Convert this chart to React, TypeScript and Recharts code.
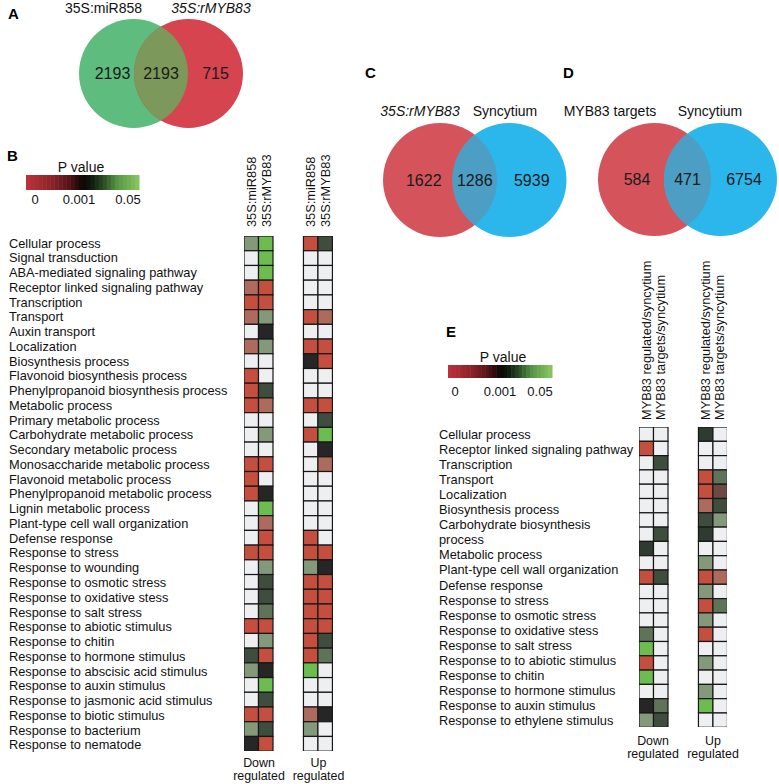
import React from "react";
import { ScatterChart, Scatter, XAxis, YAxis } from "recharts";

const FONT = "'Liberation Sans', Arial, Helvetica, sans-serif";

// Venn diagrams: counts are [only first set, both, only second set]
const vennASets = ["35S:miR858", "35S:rMYB83"];
const vennACounts = [2193, 2193, 715];
const vennCSets = ["35S:rMYB83", "Syncytium"];
const vennCCounts = [1622, 1286, 5939];
const vennDSets = ["MYB83 targets", "Syncytium"];
const vennDCounts = [584, 471, 6754];

// Panel B: GO terms and P values (null = not enriched)
const bTerms = [
  "Cellular process",
  "Signal transduction",
  "ABA-mediated signaling pathway",
  "Receptor linked signaling pathway",
  "Transcription",
  "Transport",
  "Auxin transport",
  "Localization",
  "Biosynthesis process",
  "Flavonoid biosynthesis process",
  "Phenylpropanoid biosynthesis process",
  "Metabolic process",
  "Primary metabolic process",
  "Carbohydrate metabolic process",
  "Secondary metabolic process",
  "Monosaccharide metabolic process",
  "Flavonoid metabolic process",
  "Phenylpropanoid metabolic process",
  "Lignin metabolic process",
  "Plant-type cell wall organization",
  "Defense response",
  "Response to stress",
  "Response to wounding",
  "Response to osmotic stress",
  "Response to oxidative stess",
  "Response to salt stress",
  "Response to abiotic stimulus",
  "Response to chitin",
  "Response to hormone stimulus",
  "Response to abscisic acid stimulus",
  "Response to auxin stimulus",
  "Response to jasmonic acid stimulus",
  "Response to biotic stimulus",
  "Response to bacterium",
  "Response to nematode",
];
const bColumns = ["35S:miR858", "35S:rMYB83", "35S:miR858", "35S:rMYB83"];
const bDownMiR858 = [
  0.02, null, null, 0.0003, 0.00001, 0.0003, null, 0.0003, null, 0.00001, 0.00001, 0.00001,
  null, null, null, 0.00001, 0.00001, 0.00001, null, null, null, 0.00001, null, null, null,
  null, 0.00001, null, 0.003, 0.02, null, null, 0.00001, 0.02, 0.001,
];
const bDownRMYB83 = [
  0.05, 0.05, 0.05, 0.00001, 0.00001, 0.02, 0.001, 0.02, null, null, 0.003, 0.0003, null,
  0.02, null, 0.00001, null, 0.001, 0.05, 0.0003, 0.00001, 0.00001, 0.02, 0.003, 0.003,
  0.008, 0.00001, 0.02, 0.00001, 0.001, 0.05, 0.003, 0.00001, 0.003, 0.00001,
];
const bUpMiR858 = [
  0.00001, null, null, null, null, 0.00001, null, 0.00001, 0.001, null, null, 0.00001, null,
  0.00001, null, null, null, null, null, null, 0.00001, 0.00001, 0.02, 0.00001, 0.00001,
  0.00001, 0.00001, 0.00001, 0.00001, 0.05, null, null, 0.0003, 0.02, null,
];
const bUpRMYB83 = [
  0.003, null, null, null, null, 0.0003, null, 0.00001, 0.00001, null, null, 0.00001, 0.003,
  0.05, 0.001, 0.0003, null, null, null, null, null, 0.00001, 0.001, 0.00001, 0.00001,
  0.00001, 0.00001, 0.003, 0.008, null, null, null, 0.001, null, null,
];

// Panel E
const eTerms = [
  "Cellular process",
  "Receptor linked signaling pathway",
  "Transcription",
  "Transport",
  "Localization",
  "Biosynthesis process",
  "Carbohydrate biosynthesis",
  "process",
  "Metabolic process",
  "Plant-type cell wall organization",
  "Defense response",
  "Response to stress",
  "Response to osmotic stress",
  "Response to oxidative stess",
  "Response to salt stress",
  "Response to to abiotic stimulus",
  "Response to chitin",
  "Response to hormone stimulus",
  "Response to auxin stimulus",
  "Response to ethylene stimulus",
];
const eColumns = [
  "MYB83 regulated/syncytium",
  "MYB83 targets/syncytium",
  "MYB83 regulated/syncytium",
  "MYB83 targets/syncytium",
];
const eDownRegulated = [
  null, 0.00001, null, null, null, null, null, null, 0.002, null, 0.00001, null, null, null,
  0.008, 0.05, 0.00001, 0.05, null, 0.001, 0.02,
];
const eDownTargets = [
  null, null, 0.003, null, null, null, null, 0.003, null, null, 0.003, null, null, null,
  null, null, null, null, null, 0.008, 0.003,
];
const eUpRegulated = [
  0.002, null, null, 0.00001, 0.00001, 0.0003, 0.003, 0.002, null, 0.02, 0.00001, 0.02,
  0.00001, 0.02, 0.00001, null, 0.02, null, 0.02, 0.05, null,
];
const eUpTargets = [
  null, null, null, 0.008, 0.0007, 0.003, 0.02, null, null, null, 0.0003, null, 0.008, null,
  null, null, null, null, null, null, null,
];

const pTicks = ["0", "0.001", "0.05"];

const cellFill = (p: number | null) => {
  if (p == null) return "#eeeff1";
  if (p <= 0.00005) return "#c44f3e";
  if (p <= 0.0005) return "#ae6a5c";
  if (p <= 0.0008) return "#6a4a42";
  if (p <= 0.0015) return "#262626";
  if (p <= 0.0025) return "#2f3a30";
  if (p <= 0.005) return "#3f4d3f";
  if (p <= 0.012) return "#5f7358";
  if (p <= 0.03) return "#83997a";
  return "#6cbc4f";
};

const barStops: [number, string][] = [
  [0, "#b7323a"],
  [0.2, "#8f2429"],
  [0.38, "#541416"],
  [0.5, "#0d0606"],
  [0.58, "#0e1a0d"],
  [0.7, "#2d5227"],
  [0.82, "#5a9646"],
  [1, "#84c35e"],
];

const hex = (c: string) => [1, 3, 5].map((i) => parseInt(c.slice(i, i + 2), 16));
const barColor = (t: number) => {
  for (let i = 1; i < barStops.length; i++) {
    const [t1, c1] = barStops[i];
    const [t0, c0] = barStops[i - 1];
    if (t <= t1) {
      const f = (t - t0) / (t1 - t0);
      const a = hex(c0);
      const b = hex(c1);
      return `rgb(${a.map((v, k) => Math.round(v + (b[k] - v) * f)).join(",")})`;
    }
  }
  return barStops[barStops.length - 1][1];
};

type HeatProps = {
  left: number;
  top: number;
  cellW: number;
  cellH: number;
  columns: (number | null)[][];
  colPos: number[];
};

const Heatmap = ({ left, top, cellW, cellH, columns, colPos }: HeatProps) => {
  const rows = columns[0].length;
  const data: { x: number; y: number; p: number | null }[] = [];
  columns.forEach((col, ci) => col.forEach((p, ri) => data.push({ x: colPos[ci], y: ri, p })));
  const xMin = colPos[0] - 0.5;
  const xMax = colPos[colPos.length - 1] + 0.5;
  return (
    <div style={{ position: "absolute", left, top }}>
      <ScatterChart
        width={(xMax - xMin) * cellW}
        height={rows * cellH}
        margin={{ top: 0, right: 0, bottom: 0, left: 0 }}
      >
        <XAxis type="number" dataKey="x" domain={[xMin, xMax]} hide />
        <YAxis type="number" dataKey="y" domain={[-0.5, rows - 0.5]} reversed hide />
        <Scatter
          data={data}
          isAnimationActive={false}
          shape={(props: any) => (
            <rect
              x={props.cx - cellW / 2}
              y={props.cy - cellH / 2}
              width={cellW}
              height={cellH}
              fill={cellFill(props.payload.p)}
              stroke="#171717"
              strokeWidth={1.2}
            />
          )}
        />
      </ScatterChart>
    </div>
  );
};

type VennProps = {
  cx1: number;
  cy: number;
  d: number;
  r: number;
  sets: string[];
  counts: number[];
  colors: string[];
  lens: string;
};

const Venn = ({ cx1, cy, d, r, sets, counts, colors, lens }: VennProps) => {
  const pad = 3;
  const data = sets.map((name, i) => ({ x: i, y: 0, name, idx: i }));
  const k = (r + pad) / d;
  return (
    <div style={{ position: "absolute", left: cx1 - r - pad, top: cy - r - pad }}>
      <ScatterChart
        width={d + 2 * (r + pad)}
        height={2 * (r + pad)}
        margin={{ top: 0, right: 0, bottom: 0, left: 0 }}
      >
        <XAxis type="number" dataKey="x" domain={[-k, 1 + k]} hide />
        <YAxis type="number" dataKey="y" domain={[-1, 1]} hide />
        <Scatter
          data={data}
          isAnimationActive={false}
          shape={(props: any) => {
            const { cx, cy: y } = props;
            if (props.payload.idx === 0) return <circle cx={cx} cy={y} r={r} fill={colors[0]} />;
            const c1 = cx - d;
            const mid = cx - d / 2;
            const h = Math.sqrt(r * r - (d / 2) * (d / 2));
            const txt = { fontFamily: FONT, fontSize: 16, fill: "#1a1a1a", textAnchor: "middle" as const, dominantBaseline: "central" as const };
            return (
              <g>
                <circle cx={cx} cy={y} r={r} fill={colors[1]} />
                <path
                  d={`M${mid},${y - h} A${r},${r} 0 0 1 ${mid},${y + h} A${r},${r} 0 0 1 ${mid},${y - h} Z`}
                  fill={lens}
                />
                <text x={(c1 - r + cx - r) / 2 + 6} y={y} {...txt}>{counts[0]}</text>
                <text x={mid} y={y} {...txt}>{counts[1]}</text>
                <text x={(c1 + r + cx + r) / 2} y={y} {...txt}>{counts[2]}</text>
              </g>
            );
          }}
        />
      </ScatterChart>
    </div>
  );
};

const ColorBar = ({ x, y, w, h }: { x: number; y: number; w: number; h: number }) => {
  const n = 28;
  return (
    <g>
      {Array.from({ length: n }, (_, i) => (
        <rect key={i} x={x + (i * w) / n} y={y} width={w / n + 0.5} height={h} fill={barColor(i / (n - 1))} />
      ))}
    </g>
  );
};

export default function App() {
  const cellW = 14.5;
  const colPos = [0, 1, 4.1, 5.1];
  const t = { fontFamily: FONT, fill: "#111" };
  const bold = { fontFamily: FONT, fontWeight: 700, fontSize: 15, fill: "#000" };
  const bHeadX = colPos.map((c) => 251.5 + c * cellW);
  const eHeadX = colPos.map((c) => 646 + c * cellW);
  const foot = { fontSize: 12.4, textAnchor: "middle" as const, dominantBaseline: "central" as const, ...t };
  return (
    <div style={{ position: "absolute", left: 0, top: 0, width: 779, height: 784, background: "#fff" }}>
      <Venn cx1={133.5} cy={73} d={55} r={54.5} sets={vennASets} counts={vennACounts} colors={["#5ebc7e", "#d6444f"]} lens="#7c985b" />
      <Venn cx1={439.5} cy={180} d={69.5} r={57} sets={vennCSets} counts={vennCCounts} colors={["#d5545b", "#2cb7ec"]} lens="#4c9ec4" />
      <Venn cx1={654.5} cy={179} d={66} r={56.5} sets={vennDSets} counts={vennDCounts} colors={["#d5545b", "#2cb7ec"]} lens="#4c9ec4" />
      <Heatmap left={251.5 - cellW / 2} top={235.5} cellW={cellW} cellH={14.72} colPos={colPos} columns={[bDownMiR858, bDownRMYB83, bUpMiR858, bUpRMYB83]} />
      <Heatmap left={646 - cellW / 2} top={427} cellW={cellW} cellH={14.3} colPos={colPos} columns={[eDownRegulated, eDownTargets, eUpRegulated, eUpTargets]} />
      <svg width={779} height={784} style={{ position: "absolute", left: 0, top: 0, pointerEvents: "none" }}>
        {/* panel letters */}
        <text x={8} y={19} {...bold}>A</text>
        <text x={7} y={161} {...bold}>B</text>
        <text x={365} y={78} {...bold}>C</text>
        <text x={563} y={78} {...bold}>D</text>
        <text x={446} y={337} {...bold}>E</text>

        {/* venn set labels */}
        <text x={103.5} y={8} fontSize={14} textAnchor="middle" dominantBaseline="central" {...t}>{vennASets[0]}</text>
        <text x={211} y={8} fontSize={14} textAnchor="middle" dominantBaseline="central" fontStyle="italic" {...t}>{vennASets[1]}</text>
        <text x={420} y={111} fontSize={14} textAnchor="middle" dominantBaseline="central" fontStyle="italic" {...t}>{vennCSets[0]}</text>
        <text x={505} y={111} fontSize={14} textAnchor="middle" dominantBaseline="central" {...t}>{vennCSets[1]}</text>
        <text x={610} y={111} fontSize={14} textAnchor="middle" dominantBaseline="central" {...t}>{vennDSets[0]}</text>
        <text x={710} y={111} fontSize={14} textAnchor="middle" dominantBaseline="central" {...t}>{vennDSets[1]}</text>

        {/* B legend */}
        <text x={81} y={167} fontSize={14} textAnchor="middle" dominantBaseline="central" {...t}>P value</text>
        <ColorBar x={26} y={175} w={113} h={15} />
        {[35, 79, 128].map((x, i) => (
          <text key={i} x={x} y={199} fontSize={13} textAnchor="middle" dominantBaseline="central" {...t}>{pTicks[i]}</text>
        ))}

        {/* E legend */}
        <text x={503} y={357} fontSize={14} textAnchor="middle" dominantBaseline="central" {...t}>P value</text>
        <ColorBar x={448} y={365} w={104} h={13} />
        {[455, 500, 540].map((x, i) => (
          <text key={i} x={x} y={391} fontSize={13} textAnchor="middle" dominantBaseline="central" {...t}>{pTicks[i]}</text>
        ))}

        {/* B row labels and headers */}
        {bTerms.map((s, i) => (
          <text key={s} x={9} y={243 + i * 14.76} fontSize={12.8} dominantBaseline="central" {...t}>{s}</text>
        ))}
        {bColumns.map((s, i) => (
          <text key={i} transform={`translate(${bHeadX[i]},227) rotate(-90)`} fontSize={12.8} dominantBaseline="central" {...t}>{s}</text>
        ))}
        <text x={259} y={763} {...foot}>Down</text>
        <text x={259} y={776} {...foot}>regulated</text>
        <text x={318.5} y={763} {...foot}>Up</text>
        <text x={318.5} y={776} {...foot}>regulated</text>

        {/* E row labels and headers */}
        {eTerms.map((s, i) => (
          <text key={s} x={439} y={434 + i * 15.1} fontSize={12.8} dominantBaseline="central" {...t}>{s}</text>
        ))}
        {eColumns.map((s, i) => (
          <text key={i} transform={`translate(${eHeadX[i]},420) rotate(-90)`} fontSize={12.8} dominantBaseline="central" {...t}>{s}</text>
        ))}
        <text x={653} y={741} {...foot}>Down</text>
        <text x={653} y={754} {...foot}>regulated</text>
        <text x={713} y={741} {...foot}>Up</text>
        <text x={713} y={754} {...foot}>regulated</text>
      </svg>
    </div>
  );
}
